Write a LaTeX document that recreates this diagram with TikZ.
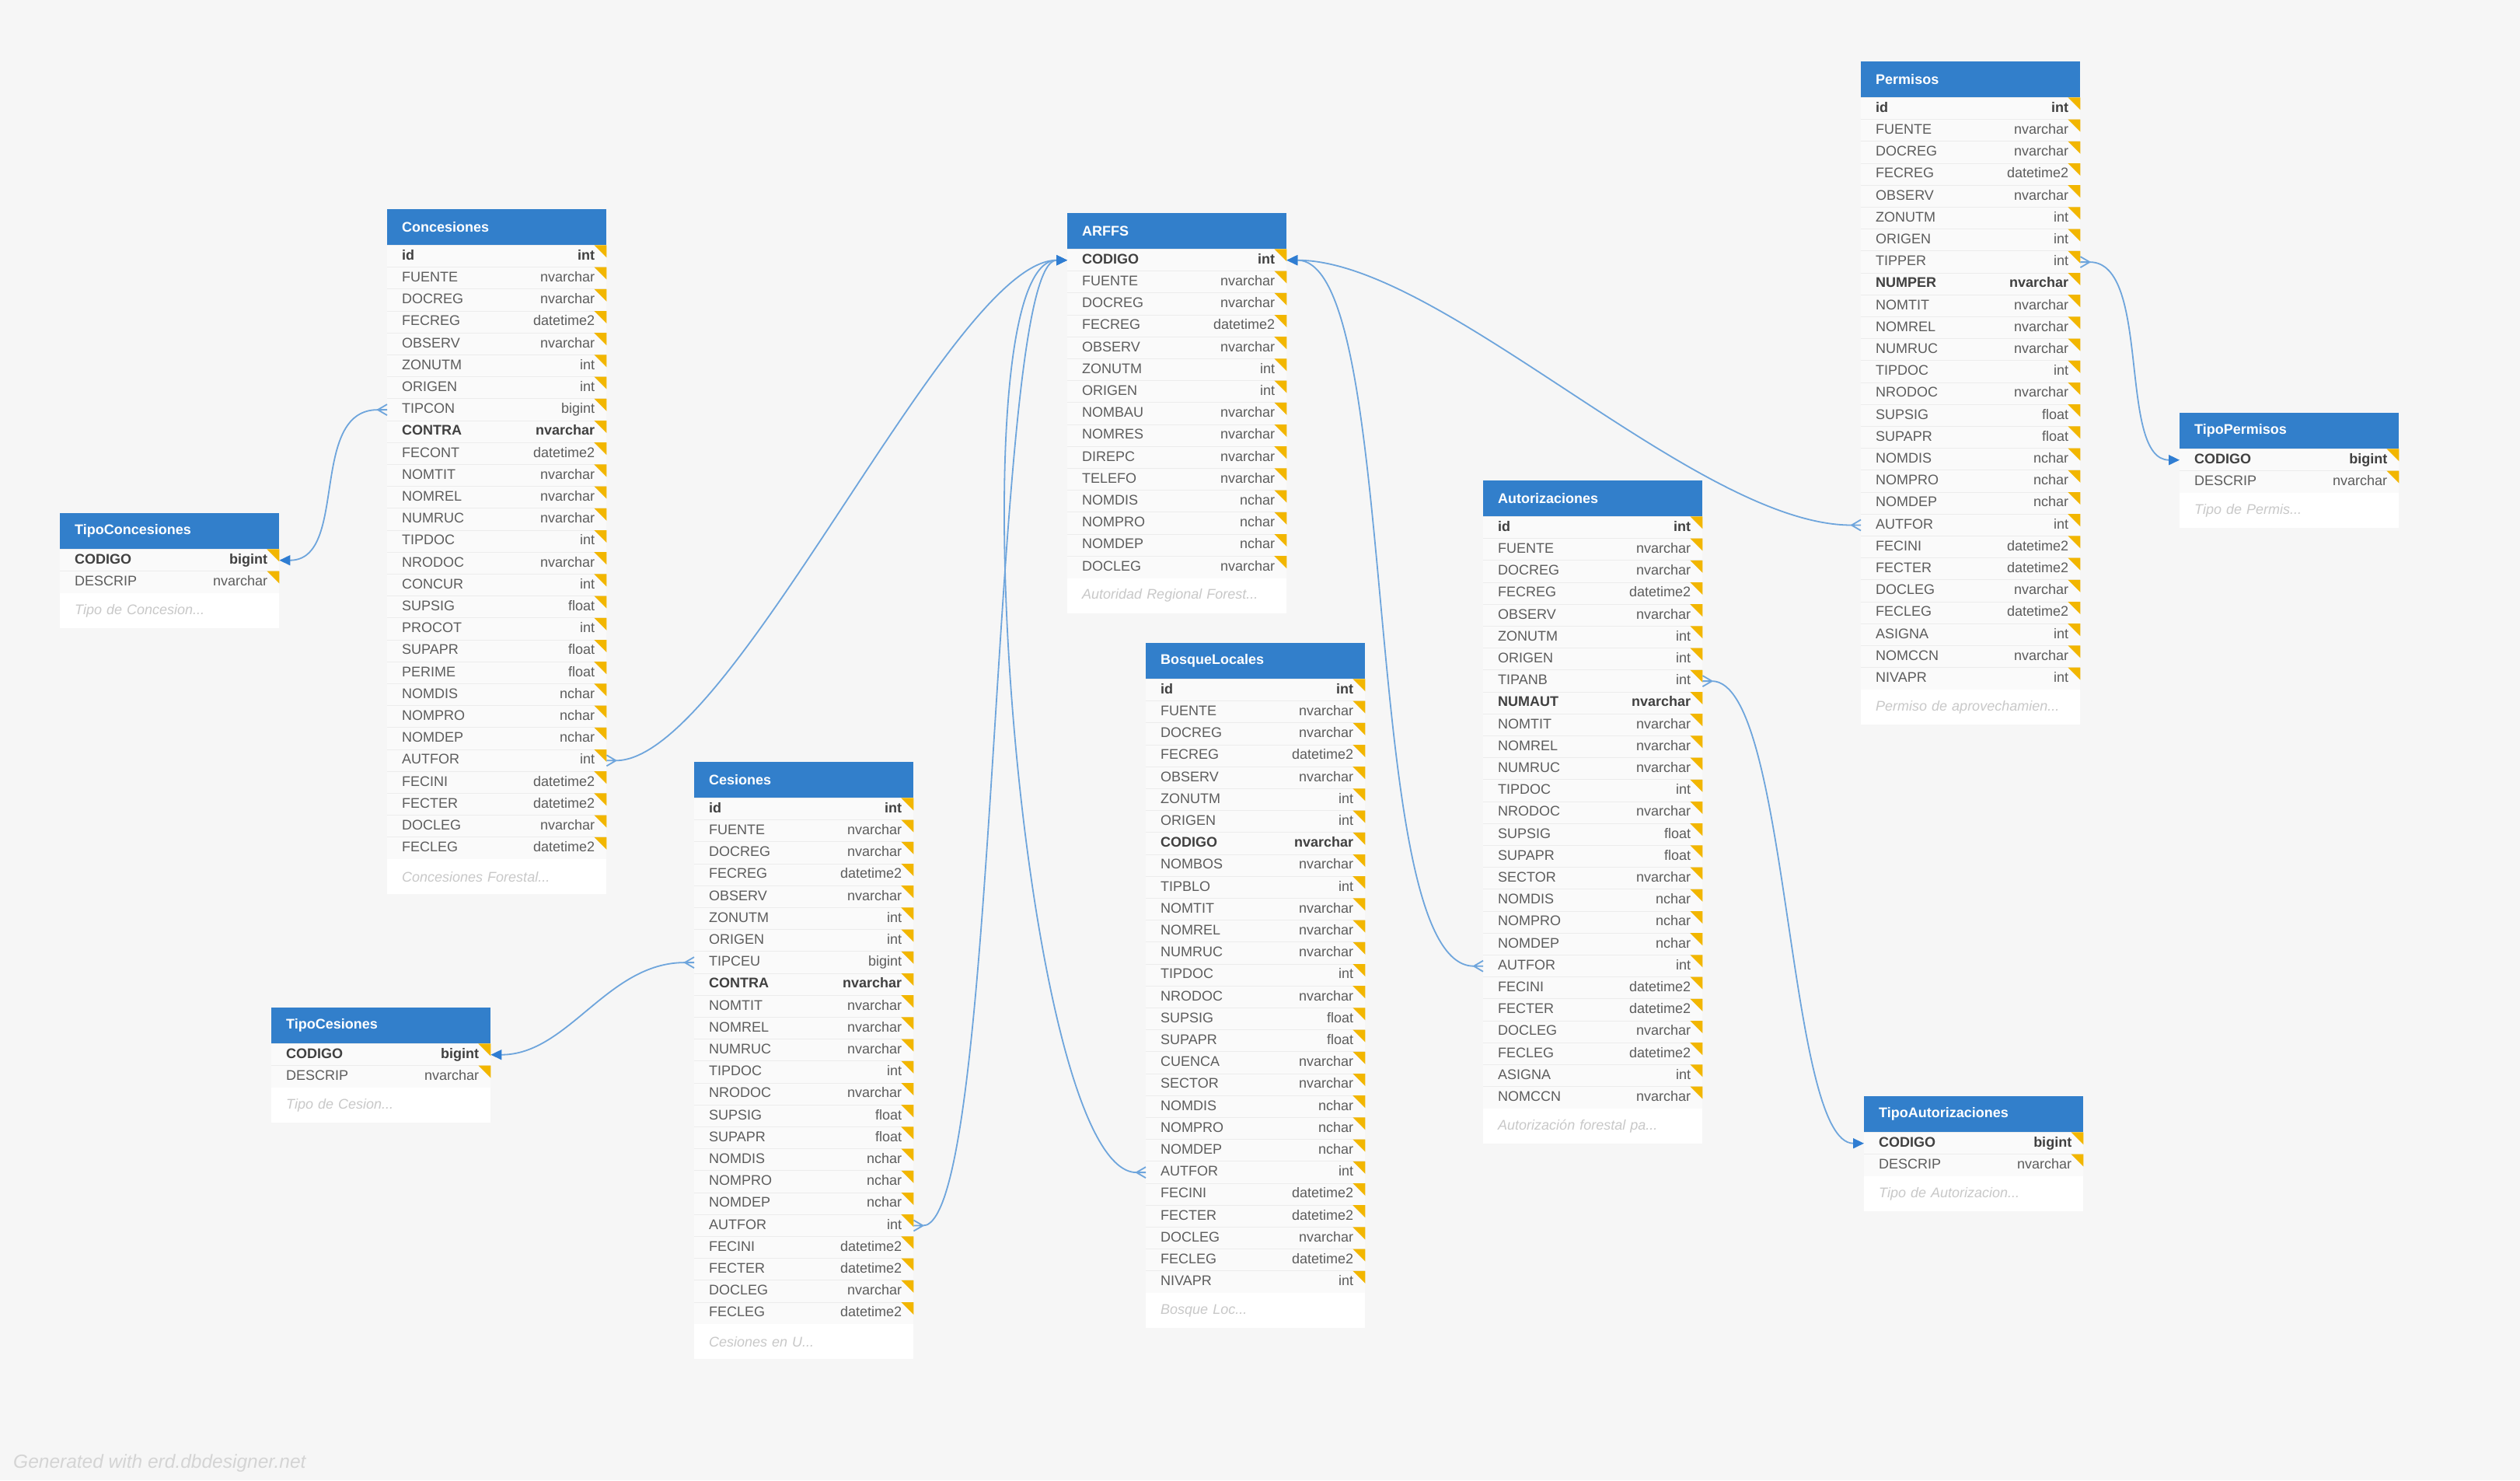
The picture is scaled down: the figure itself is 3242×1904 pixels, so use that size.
\documentclass[tikz,border=0pt]{standalone}
\usepackage{fontspec}
\setmainfont{Liberation Sans}
\usetikzlibrary{arrows.meta}

\definecolor{pagebg}{RGB}{246,246,246}
\definecolor{rowbg}{RGB}{250,250,250}
\definecolor{hdblue}{RGB}{50,127,203}
\definecolor{fldtx}{RGB}{92,92,92}
\definecolor{keytx}{RGB}{64,64,64}
\definecolor{notetx}{RGB}{200,200,200}
\definecolor{flagyl}{RGB}{242,182,0}
\definecolor{sepgray}{RGB}{236,236,236}
\definecolor{lnblue}{RGB}{110,165,220}
\definecolor{pkblue}{RGB}{47,125,210}
\definecolor{credittx}{RGB}{212,212,212}

\newcommand\pkf{\bfseries\color{keytx}}
\newcommand\nrf{\color{fldtx}}

\tikzset{
    head/.style = {
        fill=hdblue,
        text=white,
        font=\fontsize{18}{20}\selectfont\bfseries,
        anchor=north west,
        minimum height=46pt,
        text width=244pt,
        inner xsep=19pt,
        inner ysep=0pt,
        align=left
    },
    field/.style = {
        fill=rowbg,
        text=fldtx,
        font=\fontsize{18}{20}\selectfont,
        anchor=north west,
        minimum height=28.2pt,
        text width=244pt,
        text height=13pt,
        text depth=4pt,
        inner xsep=19pt,
        inner ysep=0pt,
        align=left
    },
    ftype/.style = {
        text=fldtx,
        font=\fontsize{18}{20}\selectfont,
        anchor=east,
        text height=13pt,
        text depth=4pt,
        inner xsep=15pt,
        inner ysep=0pt
    },
    note/.style = {
        fill=white,
        text=notetx,
        font=\fontsize{18}{20}\selectfont\itshape,
        anchor=north west,
        minimum height=45pt,
        text width=244pt,
        inner xsep=19pt,
        inner ysep=0pt,
        align=left
    },
    flag/.style = {fill=flagyl},
    rowline/.style = {draw=sepgray, line width=1pt},
    link/.style = {draw=lnblue, line width=1.8pt},
    rel/.style = {link, -{Triangle[length=14pt, width=13pt, color=pkblue]}},
    footer/.style = {
        text=credittx,
        font=\fontsize{24.5}{28}\selectfont\itshape,
        inner sep=0pt
    }
}

% #1 name, #2 x, #3 y, #4 title, #5 number of rows, #6 rows, #7 note
\newcommand\dbtable[7]{%
    \node[head] (#1) at (#2,#3) {#4};
    \foreach \nm/\ty/\wt [count=\i from 0] in {#6}{
        \node[field] (#1-\nm) at ([yshift={-28.2*\i}]#1.south west) {\wt\nm};
        \node[ftype] at (#1-\nm.east) {\wt\ty};
        \draw[rowline] (#1-\nm.north west) -- (#1-\nm.north east);
        \fill[flag] (#1-\nm.north east) -- ++(-16,0) -- ++(16,16) -- cycle;
    }
    \node[note] (#1-note) at ([yshift={-28.2*#5}]#1.south west) {#7};
}

% crow's foot on the many side
\newcommand\crowfoot[2]{%
    \draw[link] ([xshift=#2]#1) -- ([yshift=7pt]#1)
                ([xshift=#2]#1) -- ([yshift=-7pt]#1)
                ([xshift=#2]#1) -- (#1);
}

\begin{document}
\begin{tikzpicture}[x=1pt, y=-1pt]
    \fill[pagebg] (0,0) rectangle (3242,1904);

    \dbtable{conc}{498}{269}{Concesiones}{28}{
        id/int/\pkf, FUENTE/nvarchar/\nrf, DOCREG/nvarchar/\nrf,
        FECREG/datetime2/\nrf, OBSERV/nvarchar/\nrf, ZONUTM/int/\nrf,
        ORIGEN/int/\nrf, TIPCON/bigint/\nrf, CONTRA/nvarchar/\pkf,
        FECONT/datetime2/\nrf, NOMTIT/nvarchar/\nrf, NOMREL/nvarchar/\nrf,
        NUMRUC/nvarchar/\nrf, TIPDOC/int/\nrf, NRODOC/nvarchar/\nrf,
        CONCUR/int/\nrf, SUPSIG/float/\nrf, PROCOT/int/\nrf,
        SUPAPR/float/\nrf, PERIME/float/\nrf, NOMDIS/nchar/\nrf,
        NOMPRO/nchar/\nrf, NOMDEP/nchar/\nrf, AUTFOR/int/\nrf,
        FECINI/datetime2/\nrf, FECTER/datetime2/\nrf, DOCLEG/nvarchar/\nrf,
        FECLEG/datetime2/\nrf}{Concesiones Forestal...}

    \dbtable{tcon}{77}{660}{TipoConcesiones}{2}{
        CODIGO/bigint/\pkf, DESCRIP/nvarchar/\nrf}{Tipo de Concesion...}

    \dbtable{tces}{349}{1296}{TipoCesiones}{2}{
        CODIGO/bigint/\pkf, DESCRIP/nvarchar/\nrf}{Tipo de Cesion...}

    \dbtable{ces}{893}{980}{Cesiones}{24}{
        id/int/\pkf, FUENTE/nvarchar/\nrf, DOCREG/nvarchar/\nrf,
        FECREG/datetime2/\nrf, OBSERV/nvarchar/\nrf, ZONUTM/int/\nrf,
        ORIGEN/int/\nrf, TIPCEU/bigint/\nrf, CONTRA/nvarchar/\pkf,
        NOMTIT/nvarchar/\nrf, NOMREL/nvarchar/\nrf, NUMRUC/nvarchar/\nrf,
        TIPDOC/int/\nrf, NRODOC/nvarchar/\nrf, SUPSIG/float/\nrf,
        SUPAPR/float/\nrf, NOMDIS/nchar/\nrf, NOMPRO/nchar/\nrf,
        NOMDEP/nchar/\nrf, AUTFOR/int/\nrf, FECINI/datetime2/\nrf,
        FECTER/datetime2/\nrf, DOCLEG/nvarchar/\nrf, FECLEG/datetime2/\nrf}{Cesiones en U...}

    \dbtable{arffs}{1373}{274}{ARFFS}{15}{
        CODIGO/int/\pkf, FUENTE/nvarchar/\nrf, DOCREG/nvarchar/\nrf,
        FECREG/datetime2/\nrf, OBSERV/nvarchar/\nrf, ZONUTM/int/\nrf,
        ORIGEN/int/\nrf, NOMBAU/nvarchar/\nrf, NOMRES/nvarchar/\nrf,
        DIREPC/nvarchar/\nrf, TELEFO/nvarchar/\nrf, NOMDIS/nchar/\nrf,
        NOMPRO/nchar/\nrf, NOMDEP/nchar/\nrf, DOCLEG/nvarchar/\nrf}{Autoridad Regional Forest...}

    \dbtable{bosq}{1474}{827}{BosqueLocales}{28}{
        id/int/\pkf, FUENTE/nvarchar/\nrf, DOCREG/nvarchar/\nrf,
        FECREG/datetime2/\nrf, OBSERV/nvarchar/\nrf, ZONUTM/int/\nrf,
        ORIGEN/int/\nrf, CODIGO/nvarchar/\pkf, NOMBOS/nvarchar/\nrf,
        TIPBLO/int/\nrf, NOMTIT/nvarchar/\nrf, NOMREL/nvarchar/\nrf,
        NUMRUC/nvarchar/\nrf, TIPDOC/int/\nrf, NRODOC/nvarchar/\nrf,
        SUPSIG/float/\nrf, SUPAPR/float/\nrf, CUENCA/nvarchar/\nrf,
        SECTOR/nvarchar/\nrf, NOMDIS/nchar/\nrf, NOMPRO/nchar/\nrf,
        NOMDEP/nchar/\nrf, AUTFOR/int/\nrf, FECINI/datetime2/\nrf,
        FECTER/datetime2/\nrf, DOCLEG/nvarchar/\nrf, FECLEG/datetime2/\nrf,
        NIVAPR/int/\nrf}{Bosque Loc...}

    \dbtable{autz}{1908}{618}{Autorizaciones}{27}{
        id/int/\pkf, FUENTE/nvarchar/\nrf, DOCREG/nvarchar/\nrf,
        FECREG/datetime2/\nrf, OBSERV/nvarchar/\nrf, ZONUTM/int/\nrf,
        ORIGEN/int/\nrf, TIPANB/int/\nrf, NUMAUT/nvarchar/\pkf,
        NOMTIT/nvarchar/\nrf, NOMREL/nvarchar/\nrf, NUMRUC/nvarchar/\nrf,
        TIPDOC/int/\nrf, NRODOC/nvarchar/\nrf, SUPSIG/float/\nrf,
        SUPAPR/float/\nrf, SECTOR/nvarchar/\nrf, NOMDIS/nchar/\nrf,
        NOMPRO/nchar/\nrf, NOMDEP/nchar/\nrf, AUTFOR/int/\nrf,
        FECINI/datetime2/\nrf, FECTER/datetime2/\nrf, DOCLEG/nvarchar/\nrf,
        FECLEG/datetime2/\nrf, ASIGNA/int/\nrf, NOMCCN/nvarchar/\nrf}{Autorización forestal pa...}

    \dbtable{perm}{2394}{79}{Permisos}{27}{
        id/int/\pkf, FUENTE/nvarchar/\nrf, DOCREG/nvarchar/\nrf,
        FECREG/datetime2/\nrf, OBSERV/nvarchar/\nrf, ZONUTM/int/\nrf,
        ORIGEN/int/\nrf, TIPPER/int/\nrf, NUMPER/nvarchar/\pkf,
        NOMTIT/nvarchar/\nrf, NOMREL/nvarchar/\nrf, NUMRUC/nvarchar/\nrf,
        TIPDOC/int/\nrf, NRODOC/nvarchar/\nrf, SUPSIG/float/\nrf,
        SUPAPR/float/\nrf, NOMDIS/nchar/\nrf, NOMPRO/nchar/\nrf,
        NOMDEP/nchar/\nrf, AUTFOR/int/\nrf, FECINI/datetime2/\nrf,
        FECTER/datetime2/\nrf, DOCLEG/nvarchar/\nrf, FECLEG/datetime2/\nrf,
        ASIGNA/int/\nrf, NOMCCN/nvarchar/\nrf, NIVAPR/int/\nrf}{Permiso de aprovechamien...}

    \dbtable{tper}{2804}{531}{TipoPermisos}{2}{
        CODIGO/bigint/\pkf, DESCRIP/nvarchar/\nrf}{Tipo de Permis...}

    \dbtable{taut}{2398}{1410}{TipoAutorizaciones}{2}{
        CODIGO/bigint/\pkf, DESCRIP/nvarchar/\nrf}{Tipo de Autorizacion...}

    % relations
    \crowfoot{conc-TIPCON.west}{-12pt}
    \draw[rel] ([xshift=-12pt]conc-TIPCON.west) .. controls +(-90,0) and +(90,0) .. (tcon-CODIGO.east);
    \crowfoot{conc-AUTFOR.east}{12pt}
    \draw[rel] ([xshift=12pt]conc-AUTFOR.east) .. controls +(150,0) and +(-150,0) .. (arffs-CODIGO.west);
    \crowfoot{ces-TIPCEU.west}{-12pt}
    \draw[rel] ([xshift=-12pt]ces-TIPCEU.west) .. controls +(-100,0) and +(100,0) .. (tces-CODIGO.east);
    \crowfoot{ces-AUTFOR.east}{12pt}
    \draw[rel] ([xshift=12pt]ces-AUTFOR.east) .. controls +(100,0) and +(-100,0) .. (arffs-CODIGO.west);
    \crowfoot{bosq-AUTFOR.west}{-12pt}
    \draw[rel] ([xshift=-12pt]bosq-AUTFOR.west) .. controls +(-150,0) and +(-150,0) .. (arffs-CODIGO.west);
    \crowfoot{autz-AUTFOR.west}{-12pt}
    \draw[rel] ([xshift=-12pt]autz-AUTFOR.west) .. controls +(-150,0) and +(150,0) .. (arffs-CODIGO.east);
    \crowfoot{perm-AUTFOR.west}{-12pt}
    \draw[rel] ([xshift=-12pt]perm-AUTFOR.west) .. controls +(-200,0) and +(200,0) .. (arffs-CODIGO.east);
    \crowfoot{perm-TIPPER.east}{12pt}
    \draw[rel] ([xshift=12pt]perm-TIPPER.east) .. controls +(80,0) and +(-80,0) .. (tper-CODIGO.west);
    \crowfoot{autz-TIPANB.east}{12pt}
    \draw[rel] ([xshift=12pt]autz-TIPANB.east) .. controls +(100,0) and +(-100,0) .. (taut-CODIGO.west);

    \node[footer, anchor=base west] (credit) at (17,1888) {Generated with erd.dbdesigner.net};
\end{tikzpicture}
\end{document}
